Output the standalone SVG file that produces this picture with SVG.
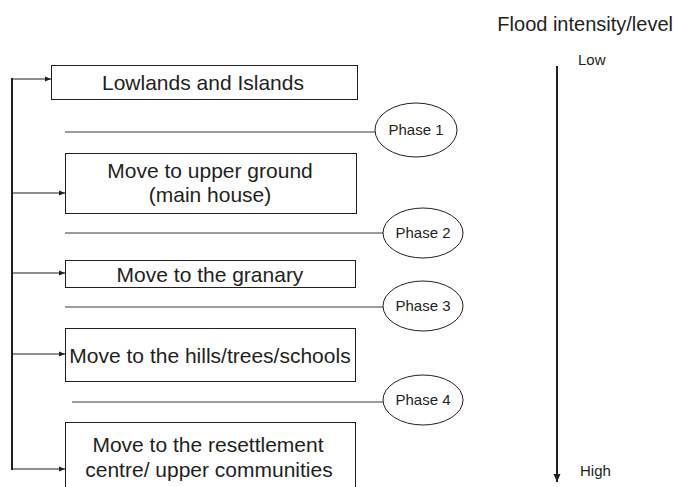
<svg xmlns="http://www.w3.org/2000/svg" width="675" height="487" viewBox="0 0 675 487">
<defs>
<marker id="ah" viewBox="0 0 6 6" refX="6" refY="3" markerWidth="6" markerHeight="6" markerUnits="userSpaceOnUse" orient="auto"><path d="M0,0.5 L6,3 L0,5.5 Z" fill="#231f20"/></marker>
<marker id="ah2" viewBox="0 0 8 8" refX="8" refY="4" markerWidth="8" markerHeight="8" markerUnits="userSpaceOnUse" orient="auto"><path d="M0,0.5 L8,4 L0,7.5 Z" fill="#231f20"/></marker>
</defs>
<style>
.box{fill:#fff;stroke:#231f20;stroke-width:1}
.ph{fill:#fff;stroke:#231f20;stroke-width:1}
.bt{font-family:"Liberation Sans",Arial,sans-serif;font-size:21px;fill:#231f20;text-anchor:middle}
.pt{font-family:"Liberation Sans",Arial,sans-serif;font-size:15px;fill:#231f20;text-anchor:middle}
.lt{font-family:"Liberation Sans",Arial,sans-serif;font-size:15px;fill:#231f20}
.sep{stroke:#3a3a3a;stroke-width:1;fill:none}
.arr{stroke:#231f20;stroke-width:1;fill:none;marker-end:url(#ah)}
</style>
<rect width="675" height="487" fill="#fff"/>
<g id="connectors">
<line x1="12" y1="78" x2="12" y2="470" stroke="#231f20" stroke-width="2"/>
<line class="arr" x1="11" y1="79" x2="51" y2="79"/>
<line class="arr" x1="11" y1="193" x2="65" y2="193"/>
<line class="arr" x1="11" y1="273" x2="65" y2="273"/>
<line class="arr" x1="11" y1="354" x2="65" y2="354"/>
<line class="arr" x1="11" y1="469" x2="65" y2="469"/>
<line class="sep" x1="65" y1="132" x2="375" y2="132"/>
<line class="sep" x1="65" y1="233" x2="383" y2="233"/>
<line class="sep" x1="65" y1="307" x2="383" y2="307"/>
<line class="sep" x1="72" y1="402" x2="383" y2="402"/>
<line x1="557" y1="66" x2="557" y2="482" stroke="#231f20" stroke-width="2" marker-end="url(#ah2)"/>
</g>
<g id="n1"><rect class="box" x="51.5" y="65.5" width="306" height="34"/><text class="bt" x="203" y="90">Lowlands and Islands</text></g>
<g id="n2"><rect class="box" x="65.5" y="153.5" width="291" height="60"/><text class="bt" x="210" y="178">Move to upper ground</text><text class="bt" x="210" y="202">(main house)</text></g>
<g id="n3"><rect class="box" x="65.5" y="260.5" width="290" height="27"/><text class="bt" x="210" y="282">Move to the granary</text></g>
<g id="n4"><rect class="box" x="65.5" y="328.5" width="290" height="53"/><text class="bt" x="210" y="363">Move to the hills/trees/schools</text></g>
<g id="n5"><rect class="box" x="65.5" y="422.5" width="290" height="70"/><text class="bt" x="208" y="452">Move to the resettlement</text><text class="bt" x="209" y="477">centre/ upper communities</text></g>
<g id="p1"><ellipse class="ph" cx="416" cy="130" rx="41" ry="27"/><text class="pt" x="416" y="135">Phase 1</text></g>
<g id="p2"><ellipse class="ph" cx="423" cy="233" rx="40" ry="25"/><text class="pt" x="423" y="238">Phase 2</text></g>
<g id="p3"><ellipse class="ph" cx="423" cy="306" rx="40" ry="25"/><text class="pt" x="423" y="311">Phase 3</text></g>
<g id="p4"><ellipse class="ph" cx="423" cy="400" rx="40" ry="25"/><text class="pt" x="423" y="405">Phase 4</text></g>
<g id="scale">
<text class="lt" x="673" y="31" text-anchor="end" style="font-size:20px">Flood intensity/level</text>
<text class="lt" x="578" y="65">Low</text>
<text class="lt" x="580" y="476">High</text>
</g>
</svg>
